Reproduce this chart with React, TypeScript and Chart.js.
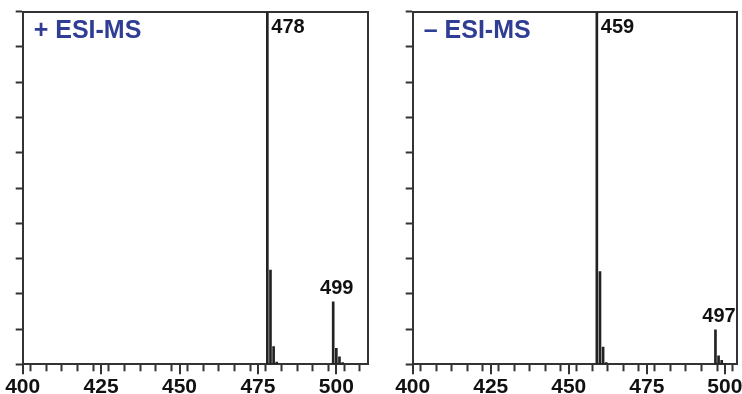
import React, { useEffect, useRef } from "react";
import { Chart, registerables } from "chart.js";

Chart.register(...registerables);

// ---- data ----
const posMz = [478, 479, 480, 481, 499, 500, 501, 502];
const posIntensity = [100, 26.7, 5, 0.6, 17.7, 4.5, 2.1, 0.5];
const posPeakLabels = [478, 499];
const posTitle = "+ ESI-MS";

const negMz = [459, 460, 461, 462, 497, 498, 499, 500];
const negIntensity = [100, 26.3, 4.9, 0.5, 9.8, 2.4, 1.1, 0.3];
const negPeakLabels = [459, 497];
const negTitle = "\u2013 ESI-MS";

const xTickLabels = [400, 425, 450, 475, 500];

const AXIS = "#333333";
const FONT = "'Liberation Sans', Arial, sans-serif";

const decorPlugin = {
  id: "decor",
  afterDraw(chart: any) {
    const o = chart.options.plugins.decor;
    const ctx = chart.ctx;
    const xs = chart.scales.x;
    const ys = chart.scales.y;
    const area = chart.chartArea;
    ctx.save();
    // longer major ticks
    ctx.strokeStyle = AXIS;
    ctx.lineWidth = 2;
    xs.ticks.forEach((t: any) => {
      if (xTickLabels.includes(t.value)) {
        const px = Math.round(xs.getPixelForValue(t.value));
        ctx.beginPath();
        ctx.moveTo(px, area.bottom);
        ctx.lineTo(px, area.bottom + 10);
        ctx.stroke();
      }
    });
    // title
    ctx.fillStyle = "#2f3d94";
    ctx.font = "bold 25px " + FONT;
    ctx.textAlign = "left";
    ctx.textBaseline = "top";
    ctx.fillText(o.title, area.left + 11, area.top + 7);
    // peak labels
    ctx.fillStyle = "#111111";
    ctx.font = "bold 20px " + FONT;
    (o.peaks as number[]).forEach((p) => {
      const i = o.mz.indexOf(p);
      const v = o.intensity[i];
      const px = xs.getPixelForValue(p);
      if (v >= 99) {
        ctx.textAlign = "left";
        ctx.textBaseline = "top";
        ctx.fillText(String(p), px + 4, area.top + 6);
      } else {
        ctx.textAlign = "center";
        ctx.textBaseline = "bottom";
        ctx.fillText(String(p), px + 3.5, ys.getPixelForValue(v) - 3);
      }
    });
    ctx.restore();
  },
};

function makeConfig(
  mz: number[],
  intensity: number[],
  peaks: number[],
  title: string,
  xMax: number,
  padding: any
): any {
  return {
    type: "bar",
    data: {
      datasets: [
        {
          data: mz.map((m, i) => ({ x: m, y: intensity[i] })),
          backgroundColor: "#222222",
          borderWidth: 0,
          barThickness: 2,
        },
      ],
    },
    plugins: [decorPlugin],
    options: {
      responsive: false,
      animation: false,
      events: [],
      layout: { padding },
      plugins: {
        legend: { display: false },
        tooltip: { enabled: false },
        title: { display: false },
        decor: { title, peaks, mz, intensity },
      },
      scales: {
        x: {
          type: "linear",
          position: "bottom",
          min: 400,
          max: xMax,
          offset: false,
          grid: {
            drawOnChartArea: false,
            drawTicks: true,
            tickLength: 7,
            tickWidth: 2,
            tickColor: AXIS,
          },
          border: { display: true, color: AXIS, width: 2 },
          ticks: {
            stepSize: 5,
            autoSkip: false,
            maxRotation: 0,
            includeBounds: false,
            padding: 3,
            color: "#111111",
            font: { family: FONT, size: 21, weight: "bold" },
            callback: (v: any) => (xTickLabels.includes(Number(v)) ? String(v) : ""),
          },
        },
        xTop: {
          type: "linear",
          position: "top",
          min: 400,
          max: xMax,
          grid: { display: false, drawTicks: false },
          border: { display: true, color: AXIS, width: 2 },
          ticks: { display: false },
        },
        y: {
          type: "linear",
          position: "left",
          min: 0,
          max: 100,
          grid: {
            drawOnChartArea: false,
            drawTicks: true,
            tickLength: 7,
            tickWidth: 2,
            tickColor: AXIS,
          },
          border: { display: true, color: AXIS, width: 2 },
          ticks: { display: false, stepSize: 10 },
        },
        yRight: {
          type: "linear",
          position: "right",
          min: 0,
          max: 100,
          grid: { display: false, drawTicks: false },
          border: { display: true, color: AXIS, width: 2 },
          ticks: { display: false },
        },
      },
    },
  };
}

function Panel(props: {
  left: number;
  width: number;
  height: number;
  config: any;
}) {
  const ref = useRef<HTMLCanvasElement | null>(null);
  useEffect(() => {
    if (!ref.current) return;
    const chart = new Chart(ref.current, props.config);
    return () => chart.destroy();
  }, []);
  return (
    <div
      style={{
        position: "absolute",
        left: props.left,
        top: 0,
        width: props.width,
        height: props.height,
      }}
    >
      <canvas
        ref={ref}
        width={props.width}
        height={props.height}
        style={{ width: props.width, height: props.height, display: "block" }}
      />
    </div>
  );
}

export default function App() {
  const posConfig = makeConfig(posMz, posIntensity, posPeakLabels, posTitle, 510, {
    left: 15.7,
    top: 11.7,
    right: 4.3,
    bottom: 1.5,
  });
  const negConfig = makeConfig(negMz, negIntensity, negPeakLabels, negTitle, 504, {
    left: 29.7,
    top: 11.7,
    right: 18.7,
    bottom: 1.5,
  });
  return (
    <div
      style={{
        position: "fixed",
        left: 0,
        top: 0,
        width: 742,
        height: 394,
        overflow: "hidden",
        background: "#ffffff",
      }}
    >
      <Panel left={0} width={372} height={404} config={posConfig} />
      <Panel left={376} width={380} height={404} config={negConfig} />
    </div>
  );
}
